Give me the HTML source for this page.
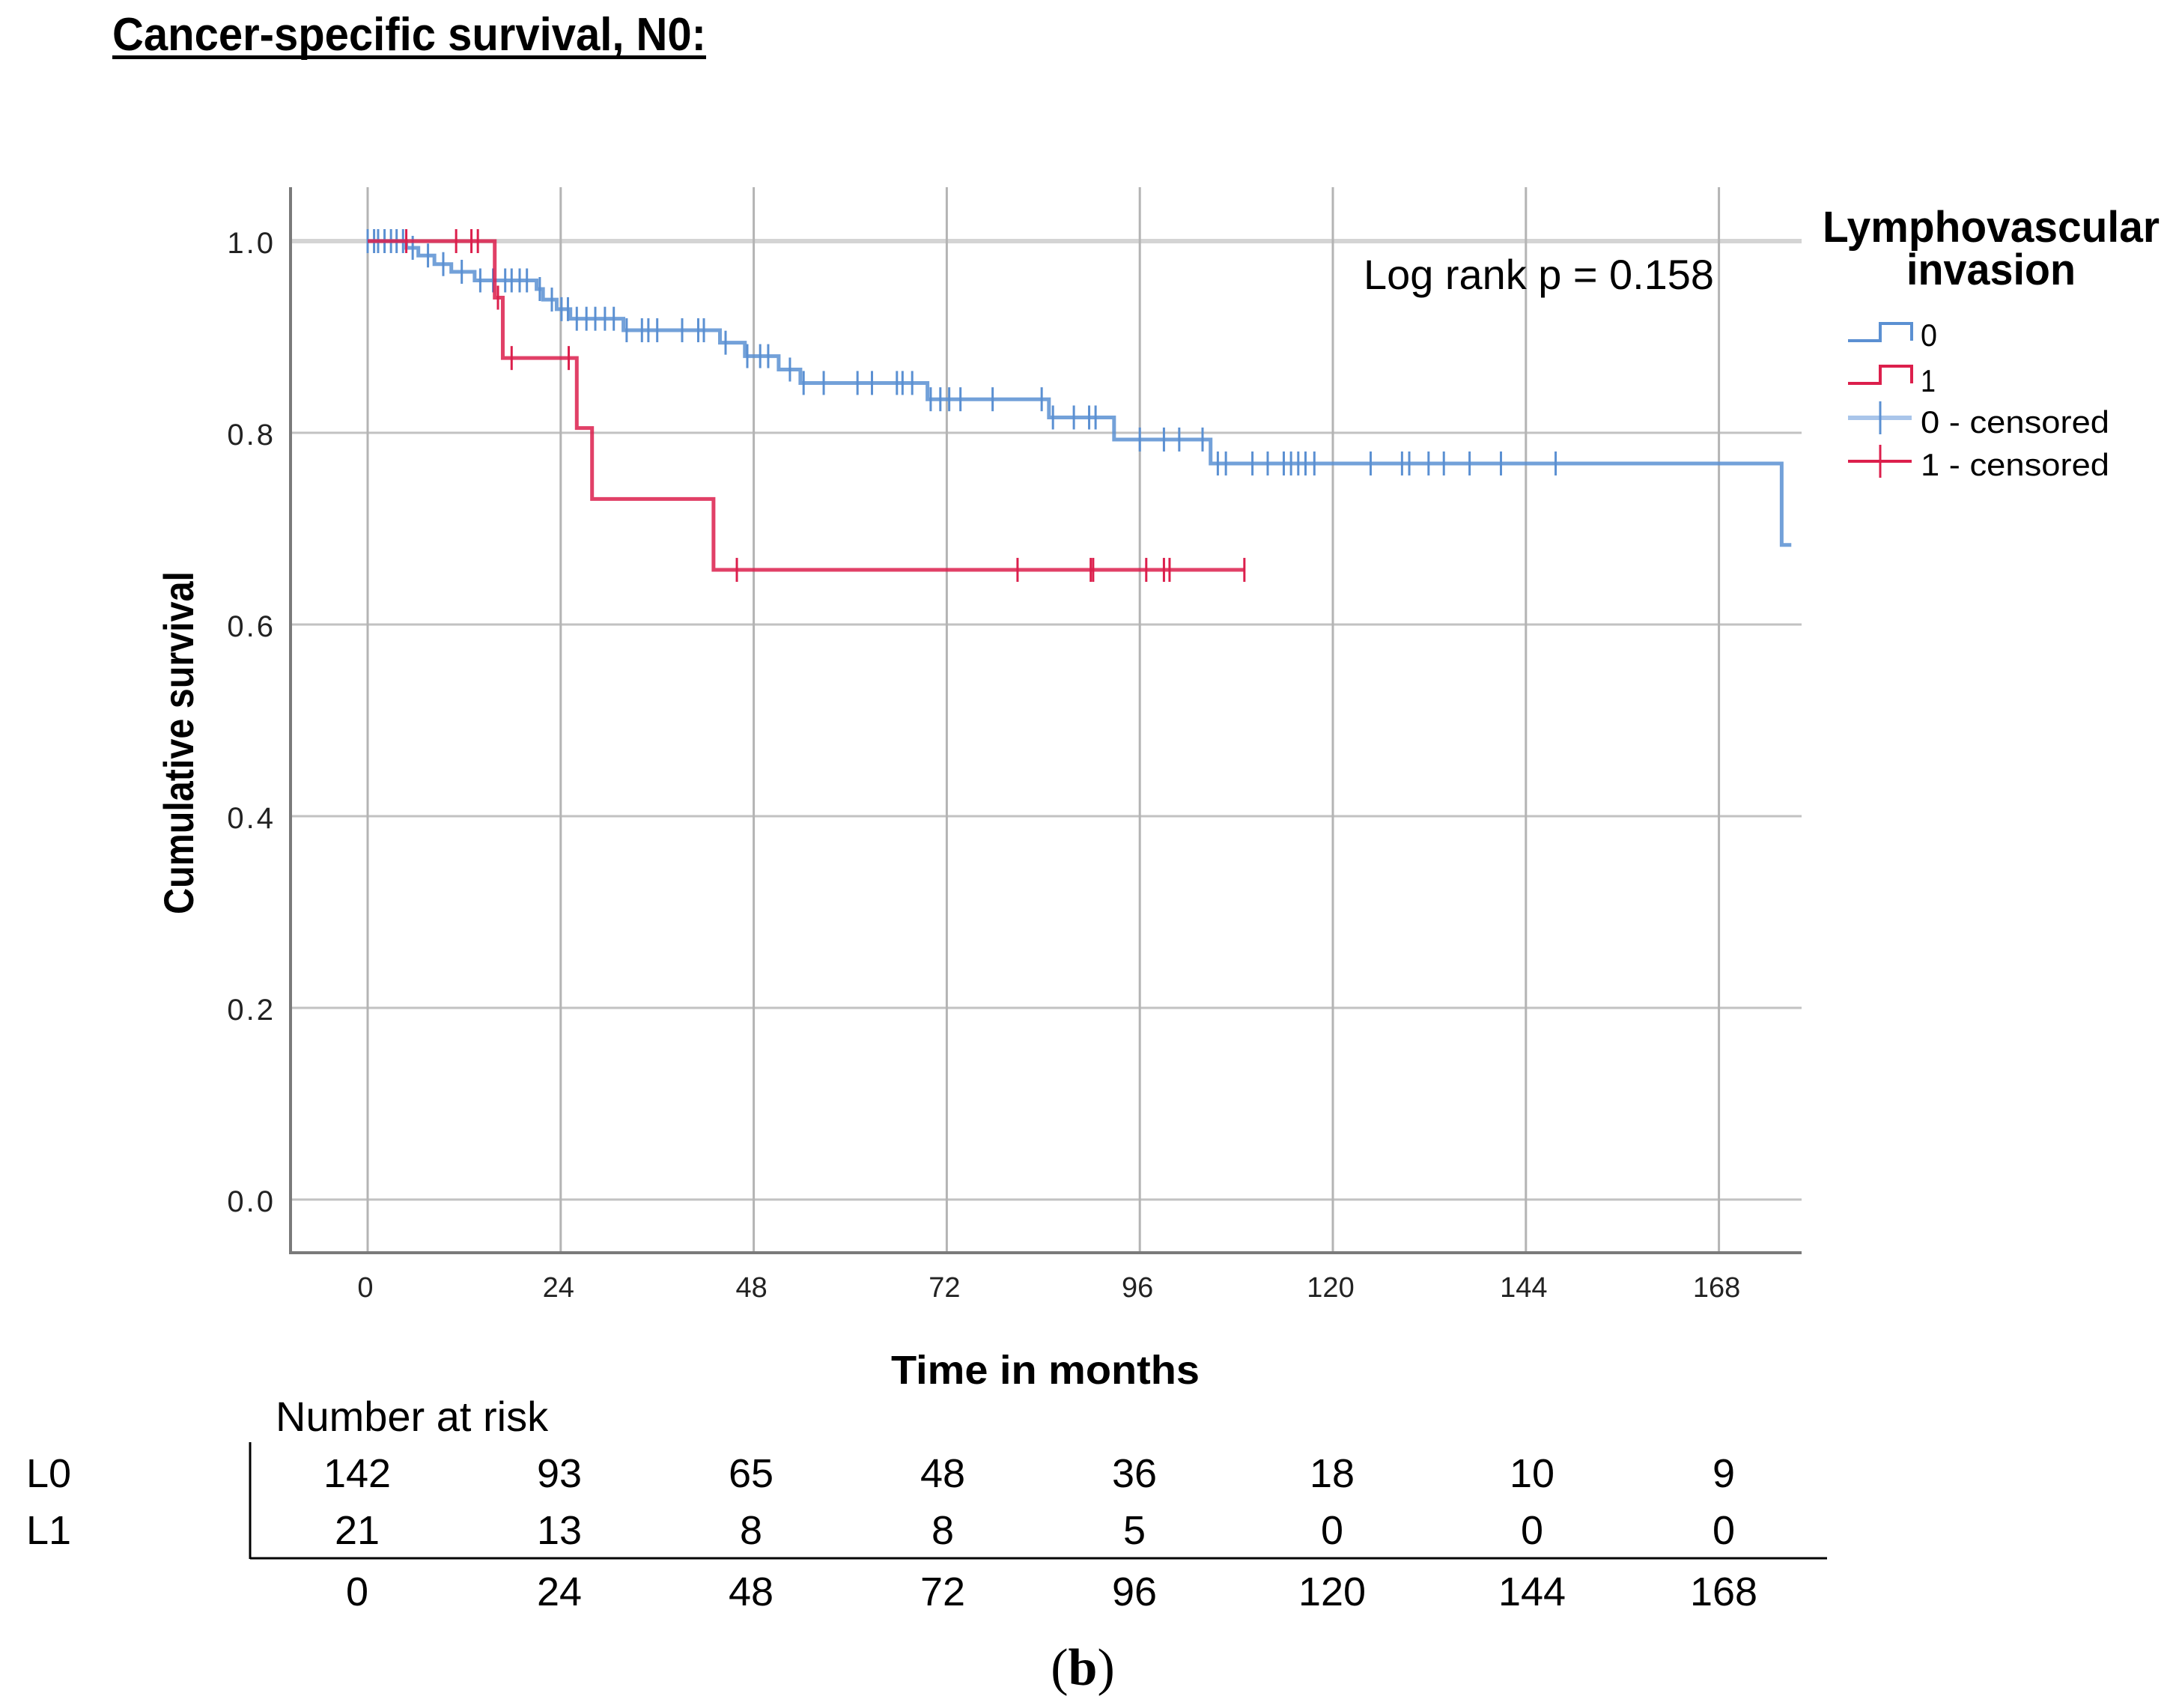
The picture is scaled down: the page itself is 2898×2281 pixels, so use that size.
<!DOCTYPE html>
<html><head><meta charset="utf-8">
<style>
html,body{margin:0;padding:0;background:#fff;}
svg{display:block;}
text{font-family:"Liberation Sans",sans-serif;}
</style></head>
<body>
<svg id="chart" width="2898" height="2281" viewBox="0 0 2898 2281" xmlns="http://www.w3.org/2000/svg">
  <text x="150" y="67" font-size="62" font-weight="bold" textLength="793" lengthAdjust="spacingAndGlyphs">Cancer-specific survival, N0:</text>
  <rect x="150" y="74" width="793" height="5" fill="#000"/>
  <g id="grid"></g>
  <g id="axes"></g>
  <g id="series"></g>
  <text x="1821" y="386" font-size="56" textLength="468" lengthAdjust="spacingAndGlyphs">Log rank p = 0.158</text>
  <text transform="translate(258,992) rotate(-90)" text-anchor="middle" font-size="56" font-weight="bold" textLength="458" lengthAdjust="spacingAndGlyphs">Cumulative survival</text>
  <text x="1396" y="1848" text-anchor="middle" font-size="54" font-weight="bold" textLength="412" lengthAdjust="spacingAndGlyphs">Time in months</text>
  <g>
    <text x="2659" y="323" text-anchor="middle" font-size="58" font-weight="bold" textLength="450" lengthAdjust="spacingAndGlyphs">Lymphovascular</text>
    <text x="2659" y="380" text-anchor="middle" font-size="58" font-weight="bold" textLength="226" lengthAdjust="spacingAndGlyphs">invasion</text>
    <g>
      <path d="M2468,455 H2511 V432 H2553 V455" fill="none" stroke="#5b90d2" stroke-width="4"/>
      <text x="2565" y="462" font-size="42" textLength="22" lengthAdjust="spacingAndGlyphs">0</text>
    </g>
    <g>
      <path d="M2468,512 H2511 V489 H2553 V512" fill="none" stroke="#dc1f4c" stroke-width="4"/>
      <text x="2565" y="523" font-size="42" textLength="20" lengthAdjust="spacingAndGlyphs">1</text>
    </g>
    <g>
      <line x1="2468" y1="558" x2="2553" y2="558" stroke="#a9c5ea" stroke-width="6"/>
      <line x1="2511" y1="536" x2="2511" y2="580" stroke="#5b90d2" stroke-width="3"/>
      <text x="2565" y="578" font-size="42" textLength="252" lengthAdjust="spacingAndGlyphs">0 - censored</text>
    </g>
    <g>
      <line x1="2468" y1="616" x2="2553" y2="616" stroke="#dc1f4c" stroke-width="4"/>
      <line x1="2511" y1="594" x2="2511" y2="638" stroke="#dc1f4c" stroke-width="3"/>
      <text x="2565" y="635" font-size="42" textLength="252" lengthAdjust="spacingAndGlyphs">1 - censored</text>
    </g>
  </g>
  <g id="risk">
    <text x="368" y="1911" font-size="56">Number at risk</text>
    <text x="35" y="1986" font-size="54">L0</text>
    <text x="35" y="2062" font-size="54">L1</text>
    <line x1="334" y1="1926" x2="334" y2="2082" stroke="#000" stroke-width="3"/>
    <line x1="334" y1="2081" x2="2440" y2="2081" stroke="#000" stroke-width="3"/>
  </g>
  <text x="1446" y="2250" text-anchor="middle" font-size="70" style="font-family:'Liberation Serif',serif">(<tspan font-weight="bold">b</tspan>)</text>
</svg>
<script>
const xTicks = [0, 24, 48, 72, 96, 120, 144, 168];
const yTicks = [0.0, 0.2, 0.4, 0.6, 0.8, 1.0];
const yTickLabels = ["0.0", "0.2", "0.4", "0.6", "0.8", "1.0"];
const blueTimes = [4.8,6.3,8.3,10.4,13.3,21.0,21.8,23.5,25.2,31.8,43.8,46.9,51.1,53.8,69.6,84.7,92.8,104.8,175.8];
const blueSurv = [0.993,0.985,0.976,0.968,0.959,0.950,0.939,0.929,0.919,0.907,0.894,0.880,0.866,0.852,0.835,0.816,0.793,0.768,0.683];
const blueEnd = 177;
const blueCensor = [0,0.8,1.3,2.1,2.9,3.6,4.4,5.6,7.5,9.4,11.7,14,15.6,17.1,17.9,18.9,19.8,21.4,22.9,24.1,24.9,26,27.2,28.3,29.5,30.6,32.2,34.1,34.9,36,39.1,41.1,41.8,44.5,47.2,48.8,49.8,52.5,54.2,56.7,60.9,62.7,65.8,66.5,67.7,70,71.2,72.3,73.7,77.7,83.8,85.2,87.8,89.7,90.5,96,99,100.9,103.8,105.7,106.7,110,111.9,113.9,114.8,115.7,116.6,117.7,124.7,128.6,129.5,131.9,133.8,137,140.9,147.7];
const redTimes = [15.8,16.8,26.0,27.9,43.0];
const redSurv = [0.941,0.878,0.805,0.731,0.657];
const redEnd = 109;
const redCensor = [4.8,11,12.9,13.7,16.2,17.9,25,45.9,80.8,89.9,90.2,96.8,99,99.7,109];
const riskTimes = [0, 24, 48, 72, 96, 120, 144, 168];
const riskL0 = [142, 93, 65, 48, 36, 18, 10, 9];
const riskL1 = [21, 13, 8, 8, 5, 0, 0, 0];

const NS = "http://www.w3.org/2000/svg";
const X0 = 491, XPER = 257.8 / 24;
const Y1 = 322, YPER = 1280;
const PL = 388, PR = 2406, PT = 250, PB = 1673;
function sx(t){ return X0 + t * XPER; }
function sy(v){ return Y1 + (1 - v) * YPER; }
function mk(tag, attrs, parent){
  const el = document.createElementNS(NS, tag);
  for (const k in attrs) el.setAttribute(k, attrs[k]);
  parent.appendChild(el);
  return el;
}
const grid = document.getElementById('grid');
const axes = document.getElementById('axes');
const series = document.getElementById('series');
const risk = document.getElementById('risk');

yTicks.forEach((v, i) => {
  const l = mk('line', {x1: PL, x2: PR, y1: sy(v), y2: sy(v), stroke: v === 1 ? '#d4d4d4' : '#c2c2c2', 'stroke-width': v === 1 ? 6 : 3}, grid);
  
  
  const t = mk('text', {x: 368, y: sy(v) + 16, 'text-anchor': 'end', 'font-size': 40, 'letter-spacing': 3, fill: '#222'}, axes);
  t.textContent = yTickLabels[i];
  
  
});
xTicks.forEach((m) => {
  const l = mk('line', {x1: sx(m), x2: sx(m), y1: PT, y2: PB, stroke: '#b4b4b4', 'stroke-width': 3}, grid);
  
  
  const t = mk('text', {x: sx(m) - 3, y: 1732, 'text-anchor': 'middle', 'font-size': 38, fill: '#222'}, axes);
  t.textContent = m;
  
  
});
const ya = mk('line', {x1: PL, x2: PL, y1: PT, y2: PB + 2, stroke: '#7a7a7a', 'stroke-width': 4}, axes);


const xa = mk('line', {x1: PL, x2: PR, y1: PB, y2: PB, stroke: '#7a7a7a', 'stroke-width': 4}, axes);



function stepVal(times, surv, t){
  let v = 1;
  for (let i = 0; i < times.length; i++) if (times[i] <= t) v = surv[i];
  return v;
}
function drawSeries(times, surv, end, censor, color, name){
  let d = 'M' + sx(0) + ',' + sy(1);
  for (let i = 0; i < times.length; i++){
    d += ' H' + sx(times[i]) + ' V' + sy(surv[i]);
  }
  d += ' H' + sx(end);
  const p = mk('path', {d: d, fill: 'none', stroke: color, 'stroke-width': 5, 'stroke-opacity': 0.85}, series);
  
  
  censor.forEach((t) => {
    const cv = stepVal(times, surv, t);
    const c = mk('line', {x1: sx(t), x2: sx(t), y1: sy(cv) - 16, y2: sy(cv) + 16, stroke: color, 'stroke-width': 3}, series);
    
    
  });
}
drawSeries(blueTimes, blueSurv, blueEnd, blueCensor, '#5b90d2', 'lvi-0');
drawSeries(redTimes, redSurv, redEnd, redCensor, '#dc1f4c', 'lvi-1');

const riskX = [477, 747, 1003, 1259, 1515, 1779, 2046, 2302];
riskTimes.forEach((m, i) => {
  const a = mk('text', {x: riskX[i], y: 1986, 'text-anchor': 'middle', 'font-size': 54}, risk);
  a.textContent = riskL0[i];
  
  
  const b = mk('text', {x: riskX[i], y: 2062, 'text-anchor': 'middle', 'font-size': 54}, risk);
  b.textContent = riskL1[i];
  
  
  const c = mk('text', {x: riskX[i], y: 2144, 'text-anchor': 'middle', 'font-size': 54}, risk);
  c.textContent = m;
  
  
});
</script>
</body></html>
